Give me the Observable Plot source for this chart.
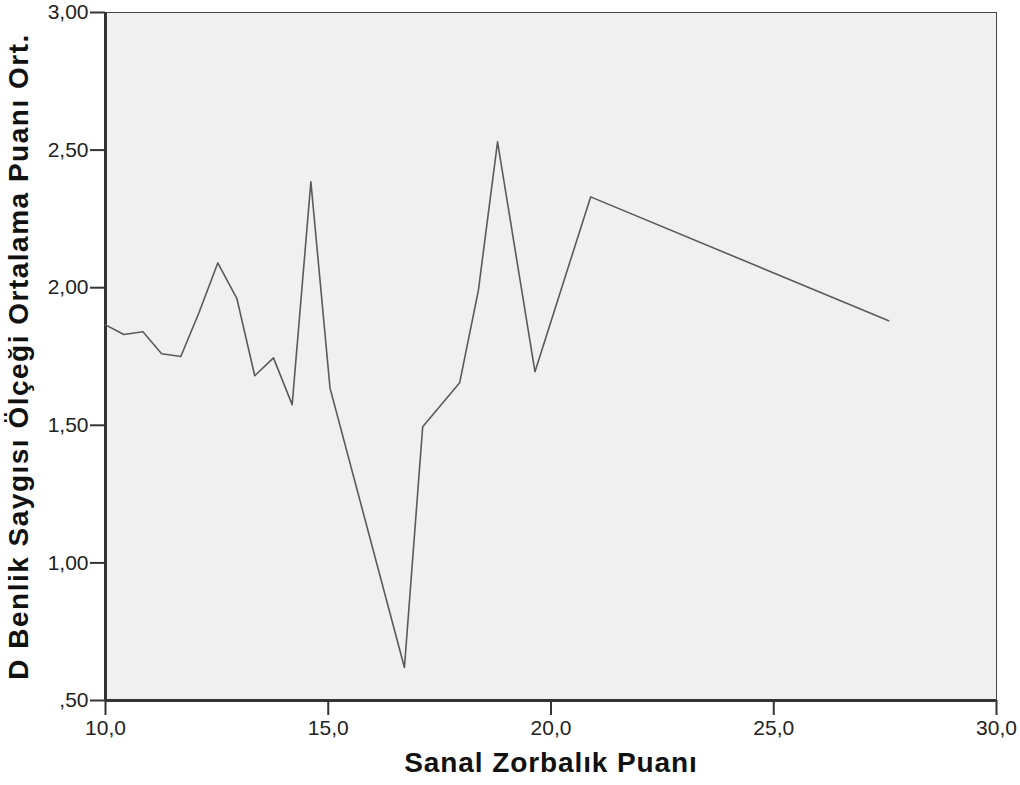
<!DOCTYPE html>
<html>
<head>
<meta charset="utf-8">
<script src="https://cdn.jsdelivr.net/npm/d3@7"></script>
<script src="https://cdn.jsdelivr.net/npm/@observablehq/plot@0.6"></script>
<style>
  html, body { margin: 0; padding: 0; background: #ffffff; }
  #chart svg { display: block; }
</style>
</head>
<body>
<div id="chart"></div>
<script>
const sanalZorbalik = [10.0, 10.41, 10.84, 11.26, 11.69, 12.10, 12.52, 12.95, 13.35, 13.77, 14.19, 14.61, 15.04, 16.71, 17.12, 17.95, 18.37, 18.80, 19.64, 20.89, 27.58];
const benlikOrt = [1.865, 1.83, 1.84, 1.76, 1.75, 1.91, 2.09, 1.96, 1.68, 1.745, 1.575, 2.385, 1.635, 0.62, 1.495, 1.655, 1.99, 2.53, 1.695, 2.33, 1.88];
const xTicks = [10, 15, 20, 25, 30];
const yTicks = [0.5, 1.0, 1.5, 2.0, 2.5, 3.0];
const xTitle = "Sanal Zorbalık Puanı";
const yTitle = "D Benlik Saygısı Ölçeği Ortalama Puanı Ort.";

const data = sanalZorbalik.map((x, i) => ({x, y: benlikOrt[i]}));
const fmtX = d => d.toFixed(1).replace(".", ",");
const fmtY = d => d.toFixed(2).replace(".", ",").replace(/^0/, "");

const chart = Plot.plot({
  width: 1020,
  height: 785,
  marginLeft: 105,
  marginRight: 24,
  marginTop: 12,
  marginBottom: 85,
  style: {fontFamily: "'Liberation Sans', Arial, sans-serif", fontSize: "21px", color: "#222", background: "#ffffff"},
  x: {domain: [10, 30]},
  y: {domain: [0.5, 3.0]},
  marks: [
    Plot.frame({fill: "#f0f0f0", stroke: "#444", strokeWidth: 1}),
    Plot.axisX({ticks: xTicks, tickFormat: fmtX, tickSize: 15, tickPadding: 5, strokeWidth: 2, stroke: "#333", fill: "#222", label: null, fontSize: 21}),
    Plot.axisY({ticks: yTicks, tickFormat: fmtY, tickSize: 15, tickPadding: 2, strokeWidth: 2, stroke: "#333", fill: "#222", label: null, fontSize: 21}),
    Plot.ruleX([10], {stroke: "#333", strokeWidth: 3}),
    Plot.ruleY([0.5], {stroke: "#333", strokeWidth: 3}),
    Plot.line(data, {x: "x", y: "y", stroke: "#5a5a5a", strokeWidth: 1.6}),
    Plot.text([xTitle], {frameAnchor: "bottom", dy: 71, text: d => d, textAnchor: "middle", fontSize: 28, fontWeight: "bold", fill: "#111"}),
    Plot.text([yTitle], {frameAnchor: "left", dx: -86, rotate: -90, text: d => d, textAnchor: "middle", fontSize: 28, fontWeight: "bold", fill: "#111"})
  ]
});
const svgSel = d3.select(chart);
svgSel.selectAll("text").filter(function() { return this.textContent === xTitle; }).attr("letter-spacing", "0.9px");
svgSel.selectAll("text").filter(function() { return this.textContent === yTitle; }).attr("letter-spacing", "1.5px");
document.getElementById("chart").appendChild(chart);
</script>
</body>
</html>
